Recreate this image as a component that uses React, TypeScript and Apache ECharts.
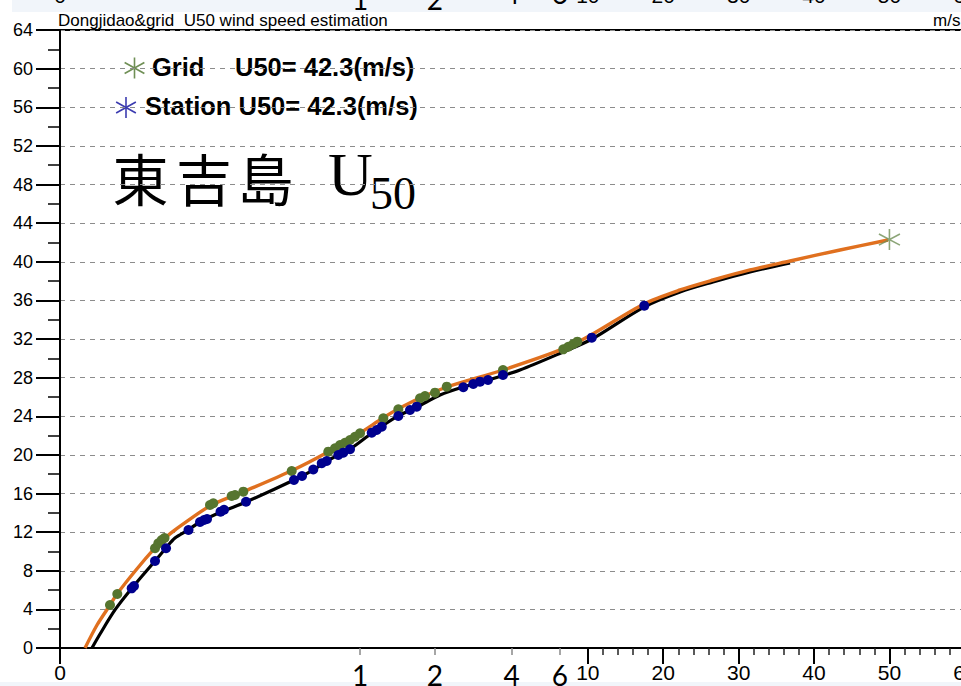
import React, { useEffect, useRef } from 'react';
import * as echarts from 'echarts';

// x position unit: u = return-period axis coordinate (label "10" at u=70 ... "60" at u=120)
const gridFitU = [3.32, 4.91, 6.63, 7.56, 10.08, 12.6, 13.93, 15.25, 19.89, 24.27, 30.64, 35.54, 39.79, 42.84, 44.83, 47.75, 51.33, 58.75, 66.71, 70.42, 77.45, 82.23, 86.6, 91.51, 96.82, 103.45, 109.81];
const gridFitV = [0, 2.38, 4.45, 5.59, 8.08, 10.36, 11.39, 12.22, 14.71, 16.16, 18.33, 20.3, 22.27, 23.82, 24.75, 25.89, 27.03, 28.79, 30.97, 32.42, 35.63, 37.08, 38.11, 39.15, 40.08, 41.22, 42.25];

const stationFitU = [4.24, 5.31, 7.29, 9.55, 12.6, 14.06, 15.25, 16.98, 18.57, 21.35, 24.67, 31.03, 33.55, 35.41, 38.46, 41.38, 44.83, 47.35, 50.4, 53.45, 56.76, 61.0, 66.71, 70.56, 77.45, 82.23, 86.6, 91.51, 96.82];
const stationFitV = [0, 1.45, 3.94, 6.21, 9.01, 10.36, 11.39, 12.22, 13.05, 14.08, 15.12, 17.4, 18.43, 19.37, 20.61, 22.27, 24.03, 24.96, 26.2, 27.03, 27.75, 28.79, 30.65, 32.0, 35.31, 36.87, 37.9, 38.94, 39.87];

const gridObsU = [6.63, 7.6, 12.6, 13.04, 13.49, 13.86, 19.89, 20.33, 22.77, 23.21, 24.31, 30.73, 35.58, 36.47, 37.14, 37.8, 38.46, 39.12, 39.79, 42.88, 44.87, 47.75, 48.41, 49.73, 51.29, 58.75, 66.75, 67.41, 68.08, 68.61];
const gridObsV = [4.45, 5.59, 10.33, 10.84, 11.18, 11.39, 14.81, 14.99, 15.74, 15.84, 16.19, 18.33, 20.33, 20.68, 21.02, 21.26, 21.54, 21.88, 22.24, 23.79, 24.72, 25.86, 26.1, 26.44, 27.06, 28.79, 30.93, 31.2, 31.48, 31.72];

const stationObsU = [9.51, 9.81, 12.6, 14.06, 17.04, 18.57, 19.1, 19.5, 21.29, 21.75, 24.67, 31.03, 32.1, 33.59, 34.71, 35.37, 36.91, 37.57, 38.46, 41.34, 42.0, 42.67, 44.87, 46.42, 47.31, 53.49, 54.81, 55.7, 56.76, 58.75, 70.52, 77.49];
const stationObsV = [6.18, 6.42, 9.01, 10.33, 12.22, 13.05, 13.26, 13.36, 14.12, 14.32, 15.15, 17.4, 17.81, 18.49, 19.13, 19.37, 19.99, 20.23, 20.58, 22.3, 22.58, 22.92, 24.03, 24.65, 24.99, 27.0, 27.34, 27.58, 27.75, 28.27, 32.14, 35.45];

const gridU50Pos = [110];
const gridU50Val = [42.3];

const mainTickPos = [0, 70, 80, 90, 100, 110, 120];
const mainTickLabels = ['0', '10', '20', '30', '40', '50', '60'];
const minorTickPos = [72, 74, 76, 78, 82, 84, 86, 88, 92, 94, 96, 98, 102, 104, 106, 108, 112, 114, 116, 118, 122];
const extraTickPos = [39.8, 49.7, 59.9, 66.3];
const extraTickLabels = ['1', '2', '4', '6'];

const yMin = 0;
const yMax = 64;
const yStep = 4;

const legendNames = ['Grid', 'Station'];
const legendValues = ['U50= 42.3(m/s)', 'U50= 42.3(m/s)'];
const titleText = 'Dongjidao&grid  U50 wind speed estimation';

const zip = (a: number[], b: number[]) => a.map((v, i) => [v, b[i]]);
const pick = (pos: number[], labels: string[]) => (v: number) => {
  const i = pos.findIndex((p) => Math.abs(p - v) < 1e-6);
  return i >= 0 ? labels[i] : '';
};

const ASTER = 'path://M10,0L10,20M0.6,4.7L19.4,15.3M0.6,15.3L19.4,4.7';

function asterisk(cx: number, cy: number, r: number, color: string) {
  const dx = r * 0.94, dy = r * 0.53;
  const st = { stroke: color, lineWidth: 1.6 };
  return {
    type: 'group',
    children: [
      { type: 'line', shape: { x1: cx, y1: cy - r, x2: cx, y2: cy + r }, style: st },
      { type: 'line', shape: { x1: cx - dx, y1: cy - dy, x2: cx + dx, y2: cy + dy }, style: st },
      { type: 'line', shape: { x1: cx - dx, y1: cy + dy, x2: cx + dx, y2: cy - dy }, style: st },
    ],
  };
}

export default function App() {
  const ref = useRef<HTMLDivElement>(null);
  useEffect(() => {
    document.body.style.margin = '0';
    document.body.style.overflow = 'hidden';
    const chart = echarts.init(ref.current!, undefined, { renderer: 'svg' });
    const sans = 'Liberation Sans, Arial, sans-serif';
    const bigFont = 'Lato, Open Sans, sans-serif';
    const cjk = 'Noto Sans CJK TC';
    const hidden = { show: false };
    const baseX = { type: 'value', min: 0, max: 124, gridIndex: 0, splitLine: hidden };
    const legendText = (x: number, y: number, text: string) => ({
      type: 'text', x, y,
      style: { text, fontSize: 25.5, fontWeight: 'bold', fontFamily: sans, fill: '#000', verticalAlign: 'middle' },
    });
    const bigText = (x: number, text: string) => ({
      type: 'text', x, y: 176,
      style: { text, fontSize: 56, fontFamily: cjk, fill: '#000', align: 'center', verticalAlign: 'middle' },
    });
    chart.setOption({
      animation: false,
      backgroundColor: '#ffffff',
      grid: {
        left: 60, top: 30, width: 935, height: 618,
        show: true, borderColor: '#000', borderWidth: 2, backgroundColor: 'transparent',
        containLabel: false, outerBoundsMode: 'none',
      },
      xAxis: [
        {
          ...baseX, position: 'bottom',
          axisLine: { show: true, onZero: false, lineStyle: { color: '#000', width: 2 } },
          axisTick: { show: true, customValues: mainTickPos, length: 16, lineStyle: { color: '#000', width: 2 } },
          axisLabel: { show: true, customValues: mainTickPos, formatter: pick(mainTickPos, mainTickLabels), margin: 14, fontSize: 21, color: '#000', fontFamily: sans },
        },
        {
          ...baseX, position: 'bottom',
          axisLine: { show: false, onZero: false },
          axisTick: { show: true, customValues: minorTickPos, length: 7, lineStyle: { color: '#222', width: 1.5 } },
          axisLabel: hidden,
        },
        {
          ...baseX, position: 'bottom',
          axisLine: { show: false, onZero: false },
          axisTick: { show: true, customValues: extraTickPos, length: 7, lineStyle: { color: '#888', width: 1.5 } },
          axisLabel: { show: true, customValues: extraTickPos, formatter: pick(extraTickPos, extraTickLabels), margin: 13, fontSize: 28, color: '#000', fontFamily: bigFont },
        },
        {
          ...baseX, position: 'top',
          axisLine: { show: false, onZero: false }, axisTick: hidden,
          axisLabel: { show: true, customValues: mainTickPos, formatter: pick(mainTickPos, mainTickLabels), margin: 24, fontSize: 21, color: '#000', fontFamily: sans },
        },
        {
          ...baseX, position: 'top',
          axisLine: { show: false, onZero: false }, axisTick: hidden,
          axisLabel: { show: true, customValues: extraTickPos.slice(0, 2), formatter: pick(extraTickPos, extraTickLabels), margin: 17, fontSize: 28, color: '#000', fontFamily: bigFont },
        },
        {
          ...baseX, position: 'top',
          axisLine: { show: false, onZero: false }, axisTick: hidden,
          axisLabel: { show: true, customValues: extraTickPos.slice(2), formatter: pick(extraTickPos, extraTickLabels), margin: 23, fontSize: 28, color: '#000', fontFamily: bigFont },
        },
      ],
      yAxis: {
        type: 'value', min: yMin, max: yMax, interval: yStep,
        axisLine: { show: true, onZero: false, lineStyle: { color: '#000', width: 2 } },
        axisTick: { show: true, length: 24, lineStyle: { color: '#000', width: 2 } },
        minorTick: { show: true, splitNumber: 2, length: 12, lineStyle: { color: '#000', width: 1.5 } },
        axisLabel: { margin: 27, fontSize: 18, color: '#000', fontFamily: sans },
        splitLine: { show: true, lineStyle: { color: '#8c8c8c', width: 1.2, type: [5, 5] } },
        minorSplitLine: { show: false },
      },
      graphic: [
        { type: 'rect', z: -10, shape: { x: 12, y: 0, width: 960, height: 12 }, style: { fill: '#f1f5fa' } },
        { type: 'rect', z: -10, shape: { x: 0, y: 682, width: 1000, height: 10 }, style: { fill: '#f1f5fa' } },
        { type: 'text', x: 58, y: 29, style: { text: titleText, fontSize: 17, fontFamily: sans, fill: '#000', verticalAlign: 'bottom' } },
        { type: 'text', x: 933, y: 29, style: { text: 'm/s', fontSize: 17, fontFamily: sans, fill: '#000', verticalAlign: 'bottom' } },
        asterisk(134.5, 68, 10.5, '#6f8f55'),
        asterisk(126, 107.5, 10.5, '#3b3bb0'),
        legendText(152, 67, legendNames[0]),
        legendText(235, 67, legendValues[0]),
        legendText(145, 106, legendNames[1] + ' ' + legendValues[1]),
        bigText(140.5, '東'),
        bigText(204, '吉'),
        bigText(265.5, '島'),
        { type: 'text', x: 328, y: 174, style: { text: 'U', fontSize: 62, fontFamily: 'Liberation Serif', fill: '#000', verticalAlign: 'middle' } },
        { type: 'text', x: 370, y: 193, style: { text: '50', fontSize: 46, fontFamily: 'Liberation Serif', fill: '#000', verticalAlign: 'middle' } },
      ],
      series: [
        { type: 'line', name: 'StationFit', data: zip(stationFitU, stationFitV), smooth: 0.3, showSymbol: false, symbol: 'none', lineStyle: { color: '#000', width: 3.2 }, z: 2 },
        { type: 'line', name: 'GridFit', data: zip(gridFitU, gridFitV), smooth: 0.3, showSymbol: false, symbol: 'none', lineStyle: { color: '#e0701f', width: 3.4 }, z: 3 },
        { type: 'scatter', name: 'GridObs', data: zip(gridObsU, gridObsV), symbol: 'circle', symbolSize: 10, itemStyle: { color: '#56752f', opacity: 1 }, z: 4 },
        { type: 'scatter', name: 'StationObs', data: zip(stationObsU, stationObsV), symbol: 'circle', symbolSize: 10, itemStyle: { color: '#00008e', opacity: 1 }, z: 5 },
        { type: 'scatter', name: 'Grid', data: zip(gridU50Pos, gridU50Val), symbol: ASTER, symbolSize: [21, 21], itemStyle: { color: 'none', borderColor: '#6f8f55', borderWidth: 1.6 }, z: 6 },
      ],
    });
    return () => chart.dispose();
  }, []);
  return <div ref={ref} style={{ width: 1000, height: 686 }} />;
}
